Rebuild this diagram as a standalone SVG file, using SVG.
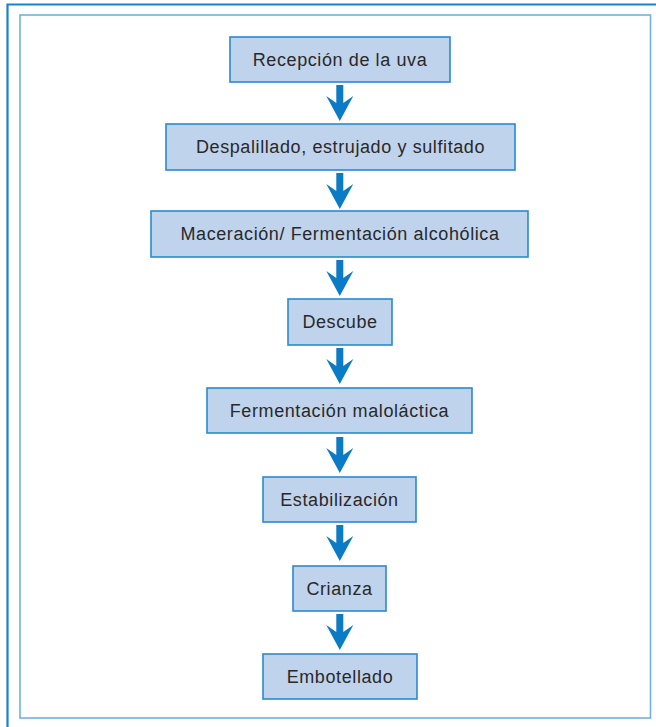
<svg xmlns="http://www.w3.org/2000/svg" width="656" height="727" viewBox="0 0 656 727">
  <defs>
    <style>
      .frame-outer { fill: none; stroke: #1a82c6; stroke-width: 2.2; }
      .frame-inner { fill: none; stroke: #6db3de; stroke-width: 1.6; }
      .box { fill: #bfd4ec; stroke: #2a8ad0; stroke-width: 1.6; }
      .label { font-family: "Liberation Sans", Arial, sans-serif; font-size: 18px; letter-spacing: 0.6px; fill: #2a2829; text-anchor: middle; }
      .arrow { fill: #0a7bc4; }
    </style>
    <!-- downward arrow, origin at shaft top centre -->
    <polygon id="down" points="-3.5,0 3.5,0 3.5,18 13.5,11 0,36 -13.5,11 -3.5,18"/>
  </defs>

  <!-- page frames -->
  <path class="frame-outer" d="M7.5,730 V4.5 H660"/>
  <rect class="frame-inner" x="20" y="15" width="630.5" height="703"/>

  <!-- connectors -->
  <g id="connectors" class="arrow">
    <use href="#down" x="339.8" y="85"/>
    <use href="#down" x="339.8" y="173"/>
    <use href="#down" x="339.8" y="260"/>
    <use href="#down" x="339.8" y="348"/>
    <use href="#down" x="339.8" y="437"/>
    <use href="#down" x="339.8" y="525"/>
    <use href="#down" x="339.8" y="614"/>
  </g>

  <g id="recepcion">
    <rect class="box" x="230" y="37" width="220" height="45"/>
    <text class="label" x="340" y="66">Recepción de la uva</text>
  </g>
  <g id="despalillado">
    <rect class="box" x="166" y="124" width="349" height="46"/>
    <text class="label" x="340.5" y="153">Despalillado, estrujado y sulfitado</text>
  </g>
  <g id="maceracion">
    <rect class="box" x="151" y="211" width="377" height="46"/>
    <text class="label" x="340" y="240">Maceración/ Fermentación alcohólica</text>
  </g>
  <g id="descube">
    <rect class="box" x="288" y="299" width="104" height="46"/>
    <text class="label" x="340" y="328">Descube</text>
  </g>
  <g id="malolactica">
    <rect class="box" x="207" y="388" width="265" height="45"/>
    <text class="label" x="339.5" y="417">Fermentación maloláctica</text>
  </g>
  <g id="estabilizacion">
    <rect class="box" x="263" y="477" width="153" height="45"/>
    <text class="label" x="339.5" y="506">Estabilización</text>
  </g>
  <g id="crianza">
    <rect class="box" x="293" y="566" width="93" height="45"/>
    <text class="label" x="339.5" y="595">Crianza</text>
  </g>
  <g id="embotellado">
    <rect class="box" x="263" y="654" width="154" height="45"/>
    <text class="label" x="340" y="683">Embotellado</text>
  </g>
</svg>
